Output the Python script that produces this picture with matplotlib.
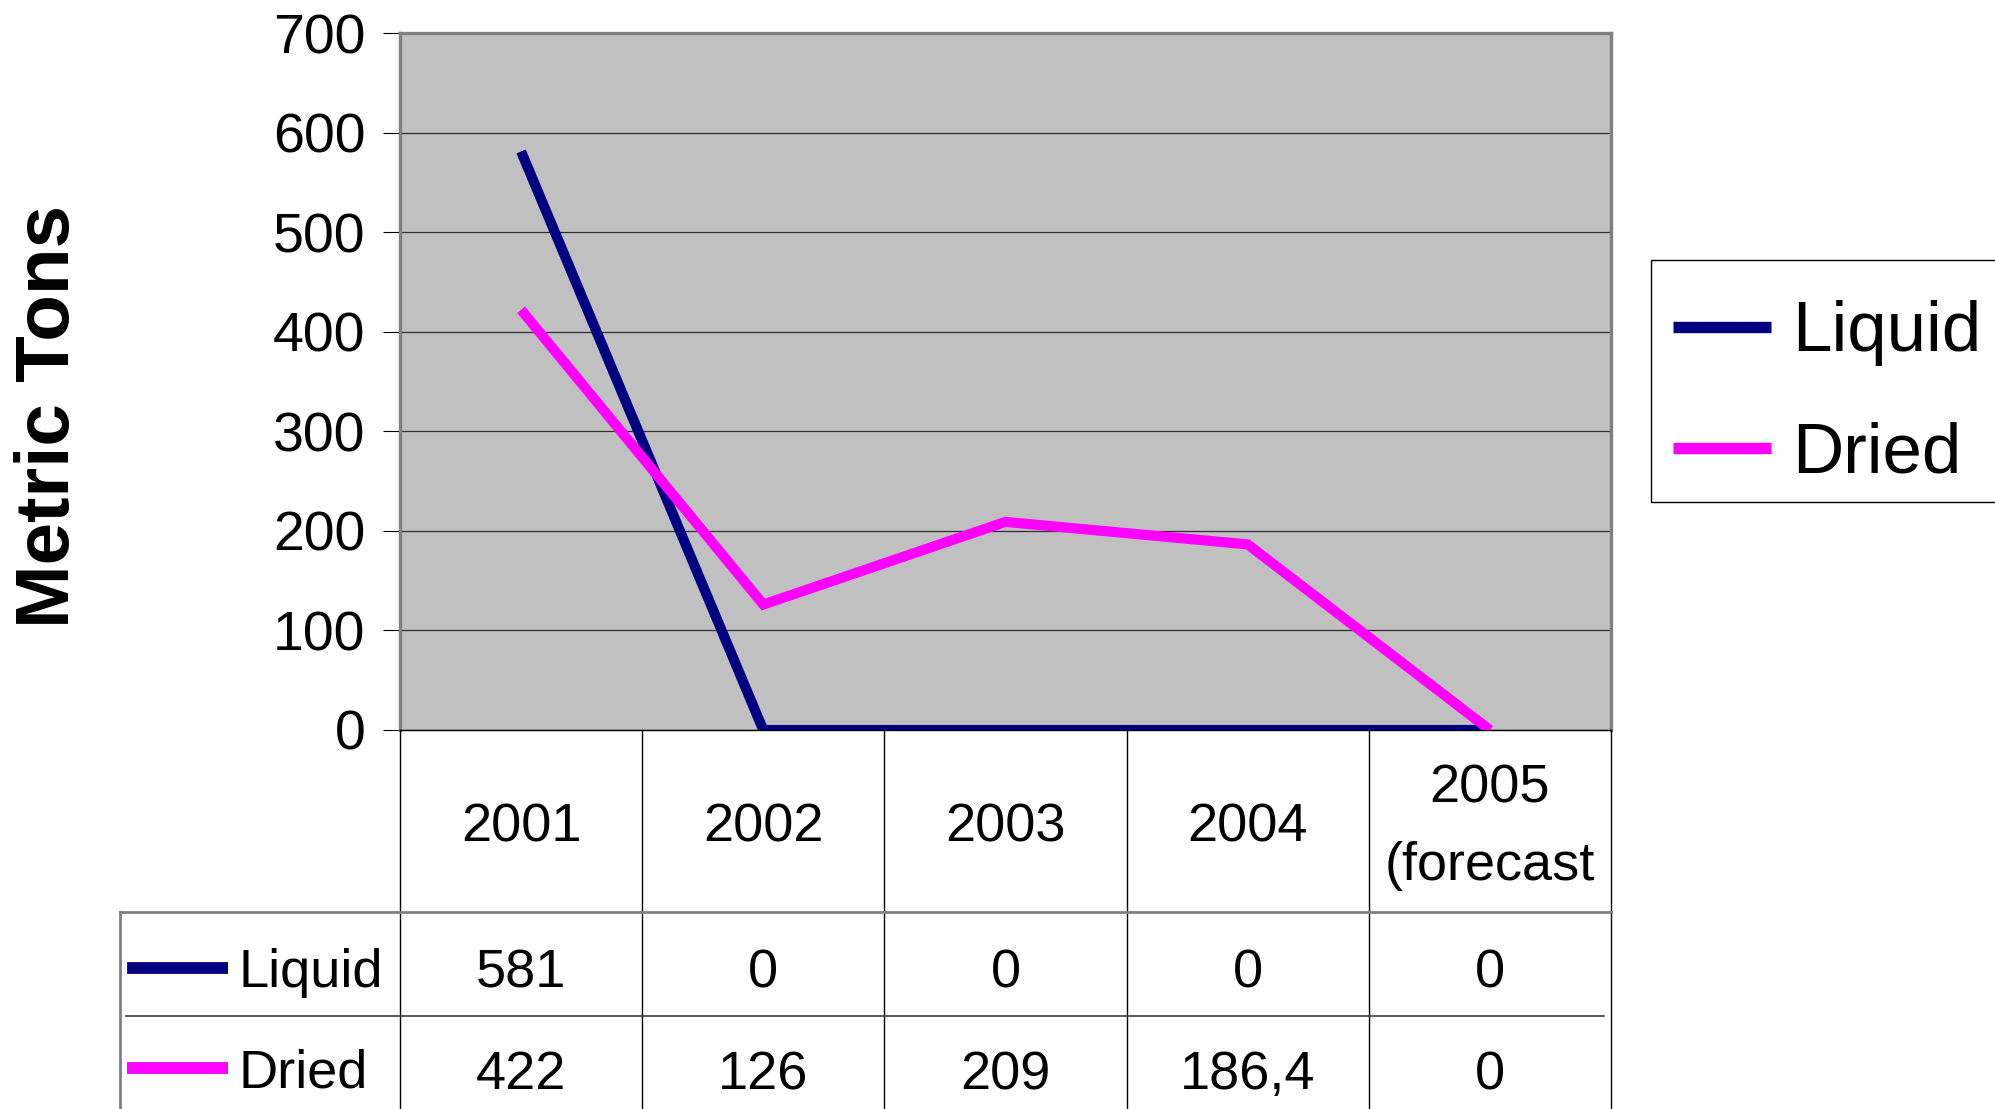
import numpy as np
import matplotlib
matplotlib.use("Agg")
import matplotlib.pyplot as plt
from matplotlib.patches import Rectangle

plt.rcParams['font.family'] = ['Liberation Sans Narrow', 'Liberation Sans', 'DejaVu Sans']

years = ['2001', '2002', '2003', '2004', '2005\n(forecast']
liquid = [581, 0, 0, 0, 0]
dried = [422, 126, 209, 186.4, 0]
liquid_txt = ['581', '0', '0', '0', '0']
dried_txt = ['422', '126', '209', '186,4', '0']
series = ['Liquid', 'Dried']
colors = ['#000080', '#FF00FF']

W, H = 1995, 1109
fig = plt.figure(figsize=(W / 100, H / 100), dpi=100)

# main plot area
ax = fig.add_axes([400 / W, (H - 730) / H, 1211 / W, 697 / H])
ax.set_facecolor('#C0C0C0')
x = np.arange(len(years)) + 0.5
l1, = ax.plot(x, liquid, color=colors[0], lw=7.3, solid_capstyle='butt',
              solid_joinstyle='miter', zorder=3)
l2, = ax.plot(x, dried, color=colors[1], lw=7.3, solid_capstyle='butt',
              solid_joinstyle='miter', zorder=4)
ax.set_xlim(0, len(years))
ax.set_ylim(0, 700)
ax.set_yticks(range(0, 701, 100))
ax.set_xticks([])
ax.yaxis.grid(True, color='#303030', lw=0.9)
ax.set_axisbelow(True)
ax.tick_params(axis='y', length=12, width=0.8, pad=13, labelsize=40)
for s in ['left', 'top', 'right']:
    ax.spines[s].set_color('#808080')
    ax.spines[s].set_linewidth(2.4)
ax.spines['bottom'].set_color('black')
ax.spines['bottom'].set_linewidth(1)

fig.text(50 / W, 1 - 416 / H, 'Metric Tons', rotation=90, ha='center', va='center',
         fontsize=55, fontweight='bold')

# legend: frame drawn separately so the box can run off the right edge
fig.patches.append(Rectangle((1651 / W, 1 - 502 / H), 400 / W, 242 / H,
                             transform=fig.transFigure, facecolor='white',
                             edgecolor='black', lw=1, zorder=1))
leg = fig.legend([l1, l2], series, loc='center left',
                 bbox_to_anchor=(1673 / W, 1 - 394 / H), fontsize=51,
                 frameon=False, handlelength=1.38, handletextpad=0.3,
                 borderpad=0, labelspacing=0.78, borderaxespad=0)
leg.set_zorder(2)
for h in leg.get_lines():
    h.set_linewidth(8.2)

# data table below plot
tx = fig.add_axes([120 / W, 0, 1491 / W, 379 / H])
tx.set_xlim(-1.156, len(years))
tx.set_ylim(379, 0)
tx.axis('off')
for i in range(len(years) + 1):
    tx.plot([i, i], [0, 379], color='black', lw=1, clip_on=False)
tx.plot([-1.156, -1.156], [182, 379], color='#808080', lw=2, clip_on=False)
tx.plot([-1.156, len(years)], [182, 182], color='#808080', lw=2, clip_on=False)
tx.plot([-1.13, len(years) - 0.03], [286, 286], color='#404040', lw=1.2, clip_on=False)

for i, yl in enumerate(years):
    tx.text(i + 0.5, 97, yl, ha='center', va='center', fontsize=39, linespacing=1.7)
    tx.text(i + 0.5, 243, liquid_txt[i], ha='center', va='center', fontsize=39)
    tx.text(i + 0.5, 345, dried_txt[i], ha='center', va='center', fontsize=39)

for j, (name, c) in enumerate(zip(series, colors)):
    yy = 238 + j * 100
    tx.plot([-1.127, -0.71], [yy, yy], color=c, lw=8.5, solid_capstyle='butt')
    tx.text(-0.665, yy + 5, name, ha='left', va='center', fontsize=39)

fig.savefig('out.png', dpi=100)
